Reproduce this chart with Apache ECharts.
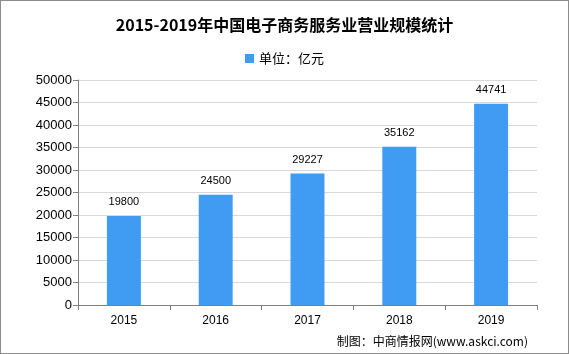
<!DOCTYPE html>
<html>
<head>
<meta charset="utf-8">
<script src="https://cdn.jsdelivr.net/npm/echarts@6/dist/echarts.min.js"></script>
<style>
  html, body { margin: 0; padding: 0; background: #fff; }
  #chart { width: 569px; height: 354px; box-sizing: border-box; border: 1px solid #8c8c8c; }
</style>
</head>
<body>
<div id="chart"></div>
<script>
var years = ['2015', '2016', '2017', '2018', '2019']
var revenue = [19800, 24500, 29227, 35162, 44741]
var seriesName = '单位：亿元'

var chart = echarts.init(document.getElementById('chart'))
chart.setOption({
  animation: false,
  title: {
    text: '2015-2019年中国电子商务服务业营业规模统计',
    left: 'center',
    top: 11,
    textStyle: {
      fontFamily: 'Noto Sans CJK SC',
      fontSize: 16,
      fontWeight: 'bold',
      color: '#000'
    }
  },
  legend: {
    data: [seriesName],
    top: 46,
    left: 'center',
    icon: 'rect',
    itemWidth: 9,
    itemHeight: 9,
    itemGap: 4,
    textStyle: { fontFamily: 'Noto Sans CJK SC', fontSize: 13, color: '#000' }
  },
  grid: {
    left: 77,
    right: 31,
    top: 79,
    bottom: 48
  },
  xAxis: {
    type: 'category',
    data: years,
    axisLine: { lineStyle: { color: '#808080' } },
    axisTick: { show: true, alignWithLabel: false, length: 5, lineStyle: { color: '#808080' } },
    axisLabel: { color: '#000', fontSize: 12, fontFamily: 'Arial, Liberation Sans', margin: 10 }
  },
  yAxis: {
    type: 'value',
    min: 0,
    max: 50000,
    interval: 5000,
    axisLine: { show: true, lineStyle: { color: '#808080' } },
    axisTick: { show: true, length: 5, lineStyle: { color: '#808080' } },
    axisLabel: {
      color: '#000',
      fontSize: 13,
      fontFamily: 'Arial, Liberation Sans',
      margin: 6,
      formatter: function(v) { return String(v) }
    },
    splitLine: { lineStyle: { color: '#d9d9d9' } }
  },
  series: [
    {
      name: seriesName,
      type: 'bar',
      data: revenue,
      barWidth: '37%',
      itemStyle: { color: '#3f9cf2' },
      label: {
        show: true,
        position: 'top',
        distance: 8,
        color: '#000',
        fontSize: 11,
        fontFamily: 'Arial, Liberation Sans'
      }
    }
  ],
  graphic: [
    {
      type: 'text',
      right: 40,
      bottom: 6,
      style: {
        text: '制图：中商情报网(www.askci.com)',
        font: '12px "Noto Sans CJK SC"',
        fill: '#000'
      }
    }
  ]
})
</script>
</body>
</html>
